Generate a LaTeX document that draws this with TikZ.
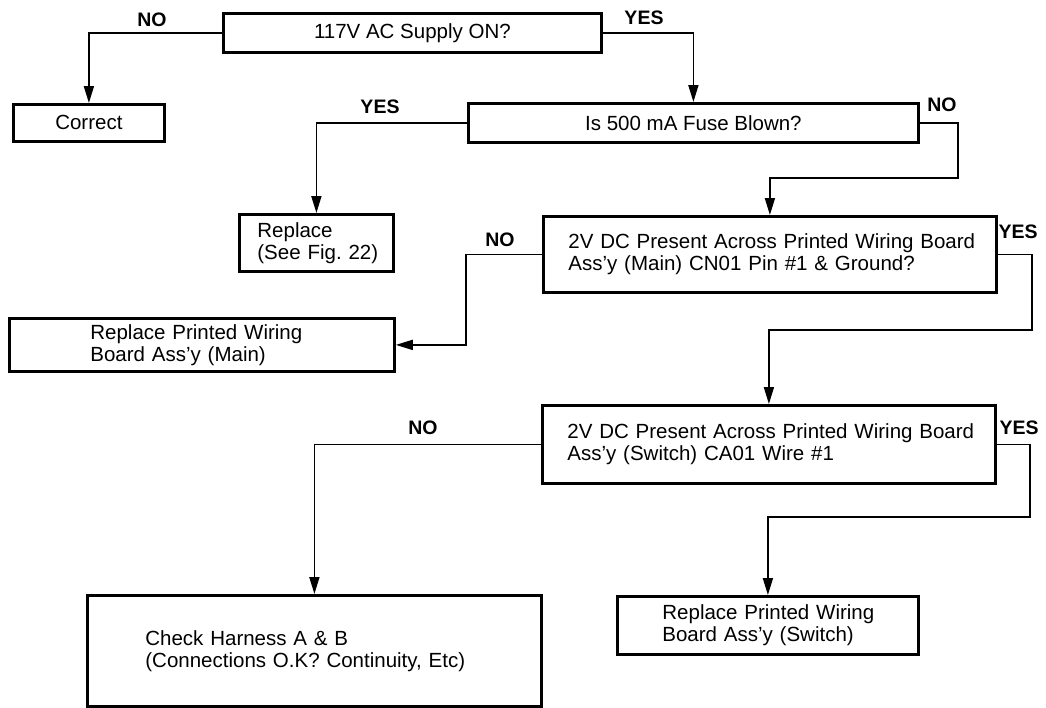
\documentclass[tikz,border=0pt]{standalone}
\usepackage{fontspec}
\setmainfont{Liberation Sans}
\usetikzlibrary{arrows.meta}
\frenchspacing
\begin{document}
\begin{tikzpicture}[x=1pt,y=-1pt,
  box/.style={draw, line width=2.8pt, rectangle, anchor=north west, inner sep=0pt,
    font=\fontsize{20.5}{22}\selectfont},
  lbox/.style={align=left},
  lbl/.style={inner sep=0pt, font=\bfseries\fontsize{19.5}{20}\selectfont},
  conn/.style={line width=1.8pt, -{Triangle[length=17pt,width=10pt]}}]
\useasboundingbox[fill=white] (0,0) rectangle (1046,707);

% boxes
\node[box, minimum width=378pt, minimum height=39pt] (b1) at (222,12) {117V AC Supply ON?};
\node[box, minimum width=151pt, minimum height=37pt] (cor) at (12,103) {Correct};
\node[box, minimum width=450pt, minimum height=39pt] (fuse) at (467,102) {Is 500 mA Fuse Blown?};
\node[box, lbox, minimum height=57pt, inner xsep=18pt, text width=118pt] (rep) at (238,213)
  {\mbox{Replace}\\\mbox{(See Fig. 22)}};
\node[box, lbox, minimum height=76pt, inner xsep=25pt, text width=403pt] (box3) at (542,215)
  {\mbox{2V DC Present Across Printed Wiring Board}\\\mbox{Ass’y (Main) CN01 Pin \#1 \& Ground?}};
\node[box, lbox, minimum height=53pt, inner xsep=81pt, text width=223pt] (repmain) at (8,317)
  {\mbox{Replace Printed Wiring}\\\mbox{Board Ass’y (Main)}};
\node[box, lbox, minimum height=78pt, inner xsep=25pt, text width=403pt] (box4) at (541,404)
  {\mbox{2V DC Present Across Printed Wiring Board}\\\mbox{Ass’y (Switch) CA01 Wire \#1}};
\node[box, lbox, minimum height=58pt, inner xsep=45pt, text width=211pt] (repsw) at (616,595)
  {\mbox{Replace Printed Wiring}\\\mbox{Board Ass’y (Switch)}};
\node[box, lbox, minimum height=111pt, inner xsep=58pt, text width=338pt] (chk) at (86,594)
  {\mbox{Check Harness A \& B}\\\mbox{(Connections O.K? Continuity, Etc)}};

% labels
\node[lbl] (l1) at (152,20) {NO};
\node[lbl] (l2) at (644,18) {YES};
\node[lbl] (l3) at (380,107) {YES};
\node[lbl] (l4) at (942,105) {NO};
\node[lbl] (l5) at (500,240) {NO};
\node[lbl] (l6) at (1018,232) {YES};
\node[lbl] (l7) at (423,428) {NO};
\node[lbl] (l8) at (1019,428) {YES};

% bend points
\coordinate (k1) at (958,178);
\coordinate (k2) at (466,0);
\coordinate (k3) at (1032,330);
\coordinate (k4) at (1030,517);

% connectors
\draw[conn] (b1.west) -| (cor.north);
\draw[conn] (b1.east) -| (fuse.north);
\draw[conn] (fuse.west) -| (rep.north);
\draw[conn] (fuse.east) -| (k1) -| (box3.north);
\draw[conn] (box3.west) -| (k2 |- repmain.east) -- (repmain.east);
\draw[conn] (box3.east) -| (k3) -| (box4.north);
\draw[conn] (box4.west) -| (chk.north);
\draw[conn] (box4.east) -| (k4) -| (repsw.north);
\end{tikzpicture}
\end{document}
